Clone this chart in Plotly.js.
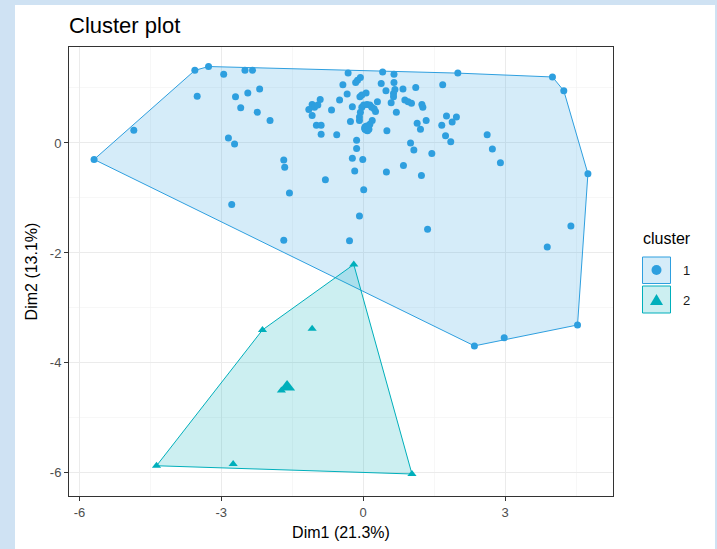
<!DOCTYPE html>
<html><head><meta charset="utf-8">
<script src="https://cdn.plot.ly/plotly-3.0.1.min.js"></script>
<style>
html,body{margin:0;padding:0;background:#cfe2f3;}
#plot{position:absolute;left:15px;top:5px;width:700px;height:544px;background:#fff;}
</style></head><body><div id="plot"></div>
<script>
const cluster1X = [-5.69,-4.85,-3.56,-3.27,-3.51,-2.95,-2.50,-2.34,-2.70,-2.44,
 -2.19,-2.59,-2.24,-1.97,-2.85,-2.72,-1.68,-1.66,-1.56,-2.78,
 -1.68,2.00,4.00,4.24,4.75,4.39,3.89,4.53,2.98,2.35,
 1.36,1.68,2.62,2.73,2.90,1.76,1.97,1.88,1.66,1.74,
 1.85,0.84,1.11,0.88,0.95,1.02,1.24,1.26,1.14,1.21,
 1.33,1.00,1.07,1.45,0.85,1.23,-0.89,-0.56,-0.14,-0.14,
 -0.23,-0.01,-0.18,0.01,-0.08,-0.29,-0.80,0.50,0.49,0.70,
 0.59,0.64,0.67,0.65,0.65,0.41,0.38,0.48,0.30,-0.32,
 -0.16,-0.12,-0.06,-0.43,-0.34,-0.50,-0.23,-0.07,-0.03,0.06,
 -0.03,0.01,0.08,0.14,0.18,0.23,0.26,-0.06,-0.08,-0.08,
 -0.27,0.19,0.14,0.07,0.04,0.09,0.12,-0.67,-0.99,-0.89,
 -1.15,-1.08,-1.03,-0.96,-0.91,-1.08,0.64];
const cluster1Y = [-0.30,0.23,1.32,1.39,0.85,1.25,1.32,1.32,0.84,0.91,
 0.98,0.64,0.56,0.41,0.09,-0.02,-0.31,-0.44,-0.91,-1.12,
 -1.77,1.27,1.20,0.95,-0.56,-1.51,-1.89,-3.31,-3.54,-3.69,
 -1.57,1.06,0.15,-0.11,-0.36,0.49,0.47,0.38,0.32,0.13,
 0.02,0.98,1.01,0.78,0.75,0.72,0.70,0.65,0.36,0.25,
 0.41,0.00,-0.13,-0.19,-0.41,-0.59,0.16,0.15,0.05,-0.10,
 -0.28,-0.30,-0.51,-0.85,-1.33,-1.78,-0.67,0.22,-0.53,0.56,
 0.73,0.90,0.97,1.10,1.25,1.29,1.08,0.95,0.75,1.27,
 1.10,1.14,1.19,1.06,0.89,0.78,0.66,0.84,0.87,0.91,
 0.65,0.69,0.70,0.69,0.65,0.62,0.57,0.56,0.47,0.41,
 0.39,0.41,0.34,0.29,0.25,0.22,0.25,0.60,0.32,0.32,
 0.61,0.70,0.65,0.69,0.79,0.50,0.84];
const cluster2X = [-0.20,-2.13,-1.08,-4.37,-2.75,1.03,-1.73];
const cluster2Y = [-2.21,-3.40,-3.38,-5.87,-5.84,-6.02,-4.50];
const centerX = [0.07,-1.61];
const centerY = [0.27,-4.44];
const clusterNames = ['1','2'];
const xTickVals = [-6,-3,0,3];
const xTickText = ['-6','-3','0','3'];
const yTickVals = [-6,-4,-2,0];
const yTickText = ['-6','-4','-2','0'];

const col1 = '#2E9FDF', col2 = '#00AFBB';
const fill1 = 'rgba(46,159,223,0.2)', fill2 = 'rgba(0,175,187,0.2)';

function hull(xs, ys){
  const p = xs.map((x,i)=>[x,ys[i]]).sort((a,b)=>a[0]-b[0]||a[1]-b[1]);
  const cross=(o,a,b)=>(a[0]-o[0])*(b[1]-o[1])-(a[1]-o[1])*(b[0]-o[0]);
  const lower=[];
  for(const q of p){while(lower.length>=2&&cross(lower[lower.length-2],lower[lower.length-1],q)<=0)lower.pop();lower.push(q);}
  const upper=[];
  for(let i=p.length-1;i>=0;i--){const q=p[i];while(upper.length>=2&&cross(upper[upper.length-2],upper[upper.length-1],q)<=0)upper.pop();upper.push(q);}
  upper.pop();lower.pop();
  const h=lower.concat(upper); h.push(h[0]);
  return {x:h.map(q=>q[0]), y:h.map(q=>q[1])};
}
const h1 = hull(cluster1X, cluster1Y), h2 = hull(cluster2X, cluster2Y);

const traces = [
 {x:h1.x,y:h1.y,type:'scatter',mode:'lines',fill:'toself',fillcolor:fill1,line:{color:col1,width:1},showlegend:false,hoverinfo:'skip'},
 {x:h2.x,y:h2.y,type:'scatter',mode:'lines',fill:'toself',fillcolor:fill2,line:{color:col2,width:1},showlegend:false,hoverinfo:'skip'},
 {x:cluster1X,y:cluster1Y,type:'scatter',mode:'markers',marker:{symbol:'circle',size:7,color:col1},showlegend:false,name:clusterNames[0]},
 {x:cluster2X,y:cluster2Y,type:'scatter',mode:'markers',marker:{symbol:'triangle-up',size:8,color:col2},showlegend:false,name:clusterNames[1]},
 {x:[centerX[0]],y:[centerY[0]],type:'scatter',mode:'markers',marker:{symbol:'circle',size:11,color:col1},showlegend:false},
 {x:[centerX[1]],y:[centerY[1]],type:'scatter',mode:'markers',marker:{symbol:'triangle-up',size:14,color:col2},showlegend:false}
];

// page pixel -> paper conversion (plot area: page x 69..613, y 47..496)
const PX=x=>(x-69)/544, PY=y=>(496-y)/449;
const shapes = [
 {type:'rect',xref:'paper',yref:'paper',x0:PX(642.5),x1:PX(670.5),y0:PY(283.5),y1:PY(257),fillcolor:fill1,line:{color:col1,width:1}},
 {type:'rect',xref:'paper',yref:'paper',x0:PX(642.5),x1:PX(670.5),y0:PY(313),y1:PY(286),fillcolor:fill2,line:{color:col2,width:1}},
 {type:'circle',xref:'paper',yref:'paper',x0:PX(651.5),x1:PX(661.5),y0:PY(275),y1:PY(265),fillcolor:col1,line:{width:0}},
 {type:'path',xref:'paper',yref:'paper',path:`M ${PX(650)} ${PY(305)} L ${PX(663)} ${PY(305)} L ${PX(656.5)} ${PY(294)} Z`,fillcolor:col2,line:{width:0}}
];
const annotations = [
 {xref:'paper',yref:'paper',x:PX(641),y:PY(238),text:'cluster',showarrow:false,xanchor:'left',yanchor:'middle',font:{size:16,color:'#000'}},
 {xref:'paper',yref:'paper',x:PX(681),y:PY(270),text:clusterNames[0],showarrow:false,xanchor:'left',yanchor:'middle',font:{size:13,color:'#1a1a1a'}},
 {xref:'paper',yref:'paper',x:PX(681),y:PY(300),text:clusterNames[1],showarrow:false,xanchor:'left',yanchor:'middle',font:{size:13,color:'#1a1a1a'}}
];

const axisCommon = {
 ticks:'outside',ticklen:4,tickcolor:'#333',tickwidth:1,
 showline:true,mirror:true,linecolor:'#333',linewidth:1,
 showgrid:true,gridcolor:'#ebebeb',gridwidth:1,zeroline:false,
 tickfont:{size:13,color:'#4d4d4d'},automargin:false
};
const layout = {
 width:700,height:544,
 margin:{l:54,r:102,t:42,b:53},
 paper_bgcolor:'#ffffff',plot_bgcolor:'#ffffff',
 font:{family:'Liberation Sans, Arial, sans-serif',color:'#4d4d4d'},
 title:{text:'Cluster plot',xref:'paper',x:0,xanchor:'left',yref:'container',y:0.963,yanchor:'middle',font:{size:22,color:'#000'}},
 xaxis:Object.assign({},axisCommon,{range:[-6.22,5.28],tickmode:'array',tickvals:xTickVals,ticktext:xTickText,
   minor:{tickmode:'linear',tick0:0,dtick:1.5,showgrid:true,gridcolor:'#f2f2f2',gridwidth:0.6,ticks:''},
   title:{text:'Dim1 (21.3%)',font:{size:16,color:'#000'},standoff:8}}),
 yaxis:Object.assign({},axisCommon,{range:[-6.42,1.745],tickmode:'array',tickvals:yTickVals,ticktext:yTickText,
   minor:{tickmode:'linear',tick0:0,dtick:1,showgrid:true,gridcolor:'#f2f2f2',gridwidth:0.6,ticks:''},
   title:{text:'Dim2 (13.1%)',font:{size:16,color:'#000'},standoff:8}}),
 shapes:shapes, annotations:annotations
};
Plotly.newPlot('plot',traces,layout,{displayModeBar:false,staticPlot:true});
</script></body></html>
